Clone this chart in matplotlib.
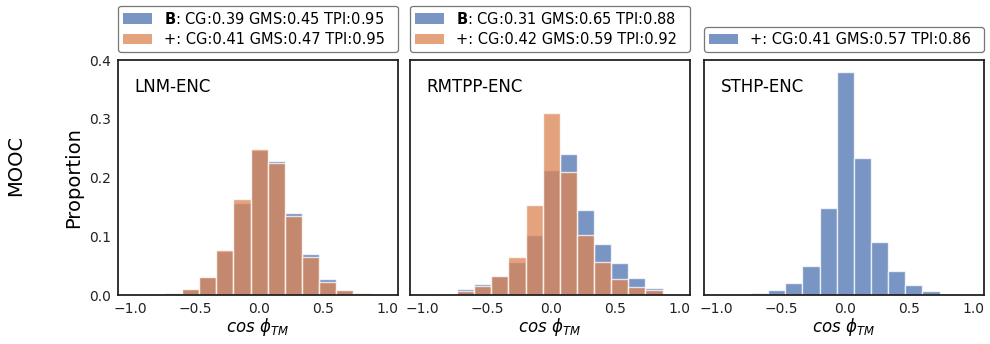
import matplotlib

matplotlib.use("Agg")
import matplotlib.pyplot as plt
import numpy as np
from matplotlib.patches import Patch

# 15 equal bins on [-1, 1]
BIN_EDGES = np.linspace(-1.0, 1.0, 16)

PANELS = ["LNM-ENC", "RMTPP-ENC", "STHP-ENC"]

# proportions per bin
lnm_base = [0.0005, 0.001, 0.004, 0.010, 0.030, 0.075, 0.156, 0.247,
            0.228, 0.140, 0.069, 0.027, 0.0085, 0.004, 0.001]
lnm_plus = [0.0005, 0.001, 0.004, 0.010, 0.031, 0.076, 0.163, 0.249,
            0.224, 0.135, 0.064, 0.023, 0.0085, 0.004, 0.001]
rmtpp_base = [0.0005, 0.002, 0.0097, 0.019, 0.032, 0.057, 0.102, 0.213,
              0.240, 0.145, 0.087, 0.054, 0.0295, 0.0125, 0.001]
rmtpp_plus = [0.0005, 0.002, 0.007, 0.015, 0.032, 0.065, 0.153, 0.310,
              0.210, 0.103, 0.057, 0.028, 0.014, 0.008, 0.001]
sthp_plus = [0.0, 0.0005, 0.004, 0.0085, 0.020, 0.049, 0.148, 0.380,
             0.233, 0.091, 0.041, 0.017, 0.0068, 0.001, 0.0]

# legend labels
lnm_labels = [r"$\mathbf{B}$: CG:0.39 GMS:0.45 TPI:0.95",
              "+: CG:0.41 GMS:0.47 TPI:0.95"]
rmtpp_labels = [r"$\mathbf{B}$: CG:0.31 GMS:0.65 TPI:0.88",
                "+: CG:0.42 GMS:0.59 TPI:0.92"]
sthp_labels = ["+: CG:0.41 GMS:0.57 TPI:0.86"]

BLUE = "#4C72B0"
ORANGE = "#DD8452"
ALPHA = 0.75

plt.rcParams["font.family"] = ["DejaVu Sans"]
plt.rcParams["mathtext.fontset"] = "dejavusans"

fig = plt.figure(figsize=(9.9, 3.44), dpi=100)
lefts = [0.119, 0.414, 0.711]
axes = [fig.add_axes([l, 0.1424, 0.283, 0.683]) for l in lefts]

series = [
    [(lnm_base, BLUE), (lnm_plus, ORANGE)],
    [(rmtpp_base, BLUE), (rmtpp_plus, ORANGE)],
    [(sthp_plus, BLUE)],
]
labels = [lnm_labels, rmtpp_labels, sthp_labels]

widths = np.diff(BIN_EDGES)
for ax, name, ser, labs in zip(axes, PANELS, series, labels):
    for vals, col in ser:
        ax.bar(BIN_EDGES[:-1], vals, width=widths, align="edge",
               color=col, alpha=ALPHA, edgecolor="white", linewidth=1.0)
    ax.set_xlim(-1.1, 1.08)
    ax.set_ylim(0, 0.4)
    ax.set_xticks([-1.0, -0.5, 0.0, 0.5, 1.0])
    ax.tick_params(length=0, labelsize=10, colors="#222222", pad=5)
    for sp in ax.spines.values():
        sp.set_color("#222222")
        sp.set_linewidth(1.3)
    ax.set_xlabel(r"$cos\ \phi_{TM}$", fontsize=12, labelpad=0)
    ax.text(0.06, 0.885, name, transform=ax.transAxes, fontsize=12,
            ha="left", va="center")
    handles = [Patch(facecolor=col, alpha=ALPHA, edgecolor="none")
               for _, col in ser]
    leg = ax.legend(handles, labs, loc="lower left",
                    bbox_to_anchor=(0, 1.035, 1, 0.2), mode="expand",
                    borderaxespad=0, fontsize=10.5, frameon=True,
                    fancybox=True, labelspacing=0.35, borderpad=0.35)
    leg.get_frame().set_edgecolor("#555555")
    leg.get_frame().set_linewidth(0.9)

axes[0].set_yticks([0.0, 0.1, 0.2, 0.3, 0.4])
axes[0].set_ylabel("Proportion", fontsize=14, labelpad=4)
for ax in axes[1:]:
    ax.set_yticks([])

fig.text(0.016, 0.52, "MOOC", rotation=90, fontsize=14, ha="center",
         va="center")

fig.savefig("out.png", dpi=100)
